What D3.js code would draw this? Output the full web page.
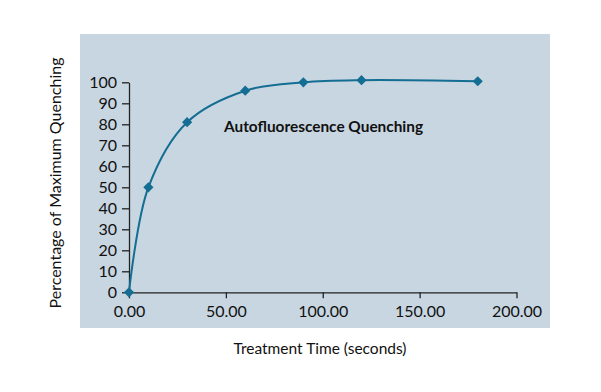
<!DOCTYPE html>
<html><head><meta charset="utf-8">
<script src="https://cdn.jsdelivr.net/npm/d3@7"></script>
<style>body{margin:0;background:#fff;} text{font-family:Lato,"Open Sans",sans-serif;}</style>
</head><body>
<svg id="c" width="601" height="392"></svg>
<script>
const times = [0, 10, 30, 60, 90, 120, 180];
const quenching = [0, 50, 81, 96, 100, 101, 100.5];
const xTicks = [0, 50, 100, 150, 200];
const yTicks = [0, 10, 20, 30, 40, 50, 60, 70, 80, 90, 100];
const seriesLabel = "Autofluorescence Quenching";
const xTitle = "Treatment Time (seconds)";
const yTitle = "Percentage of Maximum Quenching";

const svg = d3.select("#c");
svg.append("rect").attr("x", 80).attr("y", 34).attr("width", 470).attr("height", 294).attr("fill", "#c8d6e1");

const x = d3.scaleLinear().domain([0, 200]).range([129, 516.5]);
const y = d3.scaleLinear().domain([0, 100]).range([292.3, 82.3]);

const xAxis = svg.append("g").attr("transform", `translate(0,${y(0)})`)
  .call(d3.axisBottom(x).tickValues(xTicks).tickFormat(d3.format(".2f")).tickSize(6).tickSizeOuter(0).tickPadding(7));
const yAxis = svg.append("g").attr("transform", `translate(${x(0)},0)`)
  .call(d3.axisLeft(y).tickValues(yTicks).tickSize(7).tickSizeOuter(0).tickPadding(5));
[xAxis, yAxis].forEach(g => {
  g.select(".domain").attr("stroke", "#222").attr("stroke-width", 1.3);
  g.selectAll(".tick line").attr("stroke", "#222").attr("stroke-width", 1.3);
  g.selectAll(".tick text").attr("fill", "#111").style("font-size", "16px").style("font-family", "Lato, sans-serif");
});

const data = times.map((t, i) => [t, quenching[i]]);
const line = d3.line().x(d => x(d[0])).y(d => y(d[1])).curve(d3.curveCatmullRom.alpha(0.5));
svg.append("path").datum(data).attr("d", line).attr("fill", "none").attr("stroke", "#146d92").attr("stroke-width", 2);

svg.selectAll(".pt").data(data).enter().append("path")
  .attr("transform", d => `translate(${x(d[0])},${y(d[1])})`)
  .attr("d", d3.symbol(d3.symbolDiamond2, 66)())
  .attr("fill", "#146d92");

svg.append("text").attr("x", 224).attr("y", 132).text(seriesLabel)
  .style("font-size", "15.4px").style("font-weight", "bold").attr("fill", "#111");
svg.append("text").attr("x", 320).attr("y", 354).attr("text-anchor", "middle").text(xTitle)
  .style("font-size", "15.5px").attr("fill", "#111");
svg.append("text").attr("transform", "translate(61,183) rotate(-90)").attr("text-anchor", "middle").text(yTitle)
  .style("font-size", "16px").attr("fill", "#111");
</script>
</body></html>
